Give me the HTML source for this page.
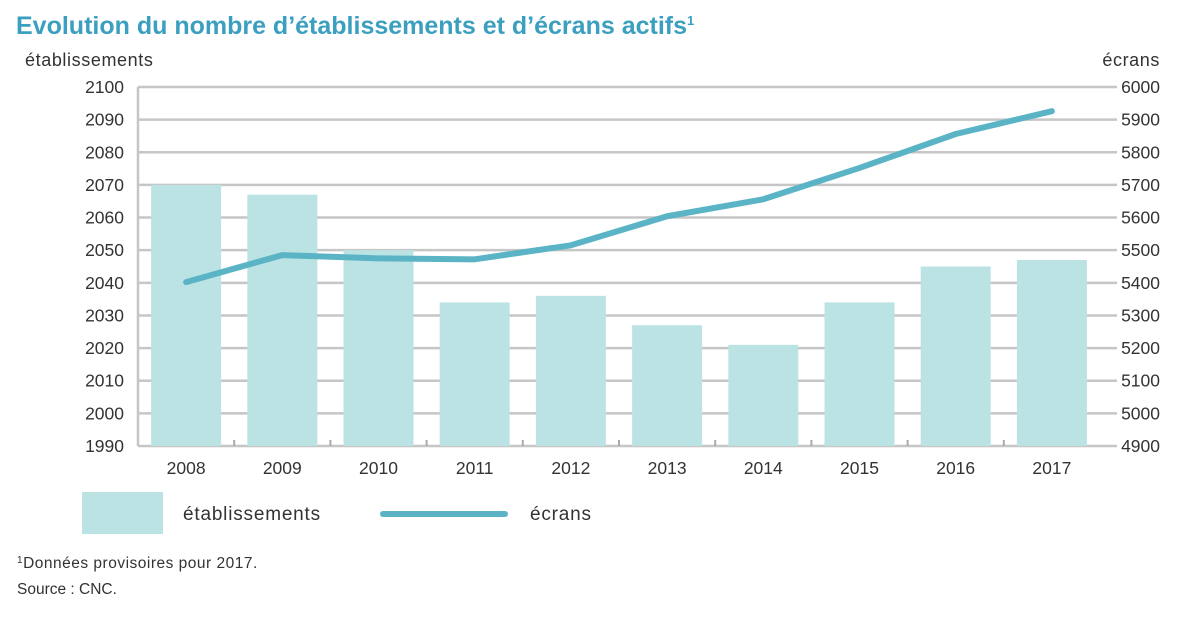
<!DOCTYPE html>
<html><head><meta charset="utf-8"><style>
body{margin:0;background:#fff;font-family:"Liberation Sans",sans-serif;}
svg text{font-family:"Liberation Sans",sans-serif;}
</style></head><body>
<svg width="1199" height="614" xmlns="http://www.w3.org/2000/svg" id="chart">
<text x="16" y="34" font-size="25" font-weight="bold" fill="#3b9fc0">Evolution du nombre d’établissements et d’écrans actifs<tspan font-size="13" dy="-9">1</tspan></text>
<text x="25" y="66" font-size="18" letter-spacing="0.6" fill="#333">établissements</text>
<text x="1160" y="66" font-size="18" letter-spacing="0.6" fill="#333" text-anchor="end">écrans</text>
<g id="grid"></g><g id="bars"></g><g id="line"></g><g id="axes"></g>
<rect x="82" y="492" width="81" height="42" fill="#bce3e3"/>
<text x="183" y="520" font-size="19" letter-spacing="0.8" fill="#333">établissements</text>
<line x1="383" y1="514" x2="505" y2="514" stroke="#5bb4c6" stroke-width="6" stroke-linecap="round"/>
<text x="530" y="520" font-size="19" letter-spacing="0.8" fill="#333">écrans</text>
<text x="17" y="568" font-size="15.5" letter-spacing="0.5" fill="#333"><tspan font-size="10" dy="-5">1</tspan><tspan dy="5">Données provisoires pour 2017.</tspan></text>
<text x="17" y="594" font-size="15.5" fill="#333">Source : CNC.</text>
</svg>
<script>
const categories=["2008","2009","2010","2011","2012","2013","2014","2015","2016","2017"];
const etablissements=[2070,2067,2050,2034,2036,2027,2021,2034,2045,2047];
const ecrans=[5402,5485,5475,5472,5515,5604,5656,5752,5856,5926];
const leftTicks=[1990,2000,2010,2020,2030,2040,2050,2060,2070,2080,2090,2100];
const rightTicks=[4900,5000,5100,5200,5300,5400,5500,5600,5700,5800,5900,6000];
const NS="http://www.w3.org/2000/svg";
const X0=138,X1=1100,YT=87,YB=446;
const yL=v=>YB-(v-1990)/110*(YB-YT);
const yR=v=>YB-(v-4900)/1100*(YB-YT);
const step=(X1-X0)/categories.length;
const xc=i=>X0+step*(i+0.5);
function mk(t,a,p){const e=document.createElementNS(NS,t);for(const k in a)e.setAttribute(k,a[k]);p.appendChild(e);return e;}
const grid=document.getElementById('grid'),bars=document.getElementById('bars'),line=document.getElementById('line'),axes=document.getElementById('axes');
leftTicks.forEach((v,i)=>{
 const g=mk('line',{x1:X0,x2:X1+17,y1:yL(v),y2:yL(v),stroke:'#c6c6c6','stroke-width':2.5},grid);
 
 
 const t=mk('text',{x:X0-14,y:yL(v)+6,'font-size':17.5,fill:'#333','text-anchor':'end'},axes);t.textContent=v;
 
 
});
rightTicks.forEach(v=>{
 const t=mk('text',{x:1160,y:yR(v)+6,'font-size':17.5,fill:'#333','text-anchor':'end'},axes);t.textContent=v;
 
 
});
const ax=mk('line',{x1:X0,x2:X0,y1:YT,y2:YB,stroke:'#c6c6c6','stroke-width':2.5},grid);


categories.forEach((c,i)=>{
 const w=70;
 const r=mk('rect',{x:xc(i)-w/2,y:yL(etablissements[i]),width:w,height:YB-yL(etablissements[i]),fill:'#bce3e3'},bars);
 
 
 const t=mk('text',{x:xc(i),y:474,'font-size':17.5,fill:'#333','text-anchor':'middle'},axes);t.textContent=c;
 
 
 if(i>0){const tk=mk('line',{x1:X0+step*i,x2:X0+step*i,y1:YB-6,y2:YB,stroke:'#aaa','stroke-width':2},axes);
 
 }
});
const p=mk('polyline',{points:ecrans.map((v,i)=>xc(i)+','+yR(v)).join(' '),fill:'none',stroke:'#5bb4c6','stroke-width':6,'stroke-linecap':'round','stroke-linejoin':'round'},line);


</script>
</body></html>
